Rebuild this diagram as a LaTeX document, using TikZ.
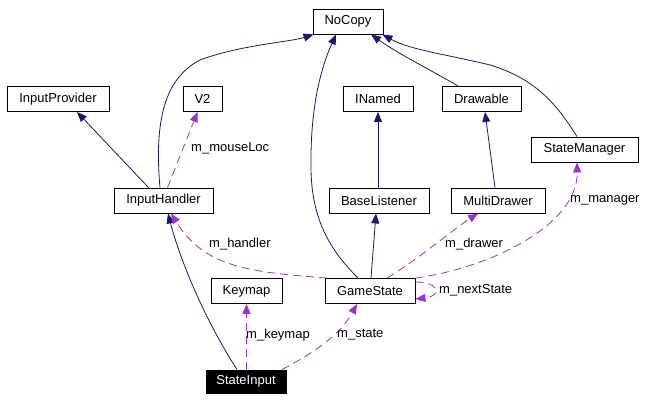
\documentclass[tikz,border=0pt]{standalone}
\usepackage{fontspec}
\setmainfont{Liberation Sans}
\usetikzlibrary{arrows.meta}
\definecolor{navy}{RGB}{25,25,112}
\definecolor{orchid}{RGB}{154,50,205}
\tikzset{
  cls/.style={draw, line width=0.9pt, minimum height=25pt, inner sep=0pt, font=\fontsize{13}{15}\selectfont},
  inh/.style={navy, line width=0.8pt, -{Triangle[length=10pt,width=8pt]}},
  use/.style={orchid, line width=0.8pt, dash pattern=on 8pt off 5pt, -{Triangle[length=10pt,width=8pt]}},
  lbl/.style={anchor=west, inner sep=0pt, font=\fontsize{13}{15}\selectfont}
}
\begin{document}
\begin{tikzpicture}[x=1pt,y=-1pt]
\useasboundingbox (0,0) rectangle (672,402);
\node[cls, minimum width=70pt]  (nocopy)   at (348,21.5)  {NoCopy};
\node[cls, minimum width=102pt] (iprov)    at (58,99)     {InputProvider};
\node[cls, minimum width=39pt]  (v2)       at (202.5,99)  {V2};
\node[cls, minimum width=70pt]  (inamed)   at (378,99)    {INamed};
\node[cls, minimum width=79pt]  (drawable) at (481.5,99)  {Drawable};
\node[cls, minimum width=107pt] (stmgr)    at (584.5,149.5) {StateManager};
\node[cls, minimum width=99pt]  (ih)       at (163.5,200.5) {InputHandler};
\node[cls, minimum width=100pt] (bl)       at (379,200.5) {BaseListener};
\node[cls, minimum width=94pt]  (md)       at (498,200.5) {MultiDrawer};
\node[cls, minimum width=71pt]  (keymap)   at (246.5,291) {Keymap};
\node[cls, minimum width=90pt]  (gs)       at (370,291)   {GameState};
\node[cls, minimum width=80pt, minimum height=23pt, fill=black, text=white] (si) at (246,381.5) {StateInput};

% inheritance
\draw[inh] ([xshift=-3.5pt]ih.north) .. controls (154,120) and (165,78) .. (200,60)
           .. controls (240,45) and (290,42) .. ([xshift=1pt]nocopy.south west);
\draw[inh] ([xshift=-15pt]ih.north) -- ([xshift=19pt]iprov.south);
\draw[inh] ([xshift=-12pt]gs.north) .. controls (330,250) and (312,220) .. (311,170)
           .. controls (310,110) and (320,70) .. ([xshift=-12pt]nocopy.south);
\draw[inh] ([xshift=-1pt]bl.north) -- (inamed.south);
\draw[inh] ([xshift=1pt]gs.north) -- ([xshift=-3pt]bl.south);
\draw[inh] ([xshift=-23.5pt]drawable.north) .. controls (440,75) and (400,55) .. ([xshift=23pt]nocopy.south);
\draw[inh] ([xshift=-7.5pt]stmgr.north) .. controls (560,110) and (540,80) .. (490,65)
           .. controls (450,55) and (410,50) .. ([xshift=-1pt]nocopy.south east);
\draw[inh] ([xshift=-3pt]md.north) -- ([xshift=3.5pt]drawable.south);
\draw[inh] ([xshift=-9pt]si.north) .. controls (205,320) and (180,260) .. ([xshift=4.5pt]ih.south);

% usage
\draw[use] ([xshift=4pt]ih.north) -- ([xshift=-5pt]v2.south);
\node[lbl] (lmouse) at (191,148) {m\_mouseLoc};
\draw[use] ([xshift=17pt]gs.north) .. controls (420,258) and (455,228) .. ([xshift=-20pt]md.south);
\node[lbl] (ldrawer) at (445,244) {m\_drawer};
\draw[use] (gs.north east) .. controls (490,268) and (578,225) .. ([xshift=-7.5pt]stmgr.south);
\node[lbl] (lmanager) at (570,200) {m\_manager};
\draw[use] ([xshift=-43pt]gs.north) .. controls (250,272) and (205,268) .. ([xshift=7.5pt]ih.south);
\node[lbl] (lhandler) at (209,244) {m\_handler};
\draw[use] ([xshift=0.5pt]si.north) -- (keymap.south);
\node[lbl] (lkeymap) at (246,335) {m\_keymap};
\draw[use] ([xshift=36pt]si.north) .. controls (315,352) and (340,335) .. ([xshift=-13pt]gs.south);
\node[lbl] (lstate) at (337,335) {m\_state};
\draw[use] ([yshift=9pt]gs.east) .. controls (440,282) and (442,296) .. ([yshift=-8pt]gs.east);
\node[lbl] (lnext) at (439,290) {m\_nextState};
\end{tikzpicture}
\end{document}
